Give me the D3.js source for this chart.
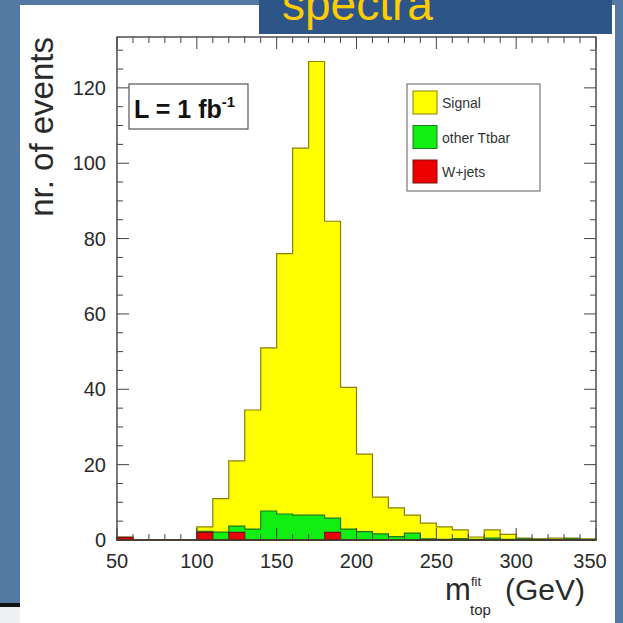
<!DOCTYPE html>
<html>
<head>
<meta charset="utf-8">
<script src="https://cdn.jsdelivr.net/npm/d3@7"></script>
<style>
  body { margin: 0; padding: 0; background: #5479a3; }
  svg { display: block; font-family: 'Liberation Sans', Arial, Helvetica, sans-serif; }
</style>
</head>
<body>
<svg id="chart" width="623" height="623"></svg>
<script>
// Histogram bins (10 GeV wide, lower edges)
var bin_starts = [50, 60, 70, 80, 90, 100, 110, 120, 130, 140, 150, 160, 170, 180, 190,
  200, 210, 220, 230, 240, 250, 260, 270, 280, 290, 300, 310, 320, 330, 340]
var bin_width = 10

// Stacked components (bottom to top): W+jets, other ttbar, signal
var wjets = [0.7, 0, 0, 0, 0, 2.0, 0, 2.0, 0, 0, 0, 0, 0, 2.0, 0,
  0, 0, 0, 0, 0, 0, 0, 0, 0, 0, 0, 0, 0, 0, 0]
var ttbar = [0, 0, 0, 0, 0, 0.3, 2.1, 1.7, 2.9, 7.7, 6.9, 6.6, 6.6, 3.8, 2.9,
  2.2, 1.6, 0.9, 1.8, 0.3, 0.2, 0.4, 0.2, 0.5, 0.2, 0.3, 0.2, 0.1, 0.3, 0.1]
var signal = [0, 0, 0, 0, 0, 1.2, 8.9, 17.3, 31.6, 43.3, 69.1, 97.4, 120.4, 78.8, 37.6,
  20.6, 9.8, 7.6, 4.8, 4.2, 3.3, 2.3, 0.6, 2.2, 1.3, 0.2, 0.1, 0.4, 0.2, 0.2]

// Axis ticks
var x_ticks = [50, 100, 150, 200, 250, 300, 350]
var y_ticks = [0, 20, 40, 60, 80, 100, 120]

// Legend
var legend_labels = ['Signal', 'other Ttbar', 'W+jets']
var legend_colors = ['#ffff00', '#11ee11', '#ee0000']

var svg = d3.select('#chart')

// Slide background
svg.append('rect').attr('width', 623).attr('height', 623).attr('fill', '#5479a3')
svg.append('rect').attr('x', 0).attr('y', 603).attr('width', 20).attr('height', 4).attr('fill', '#111')
svg.append('rect').attr('x', 0).attr('y', 607).attr('width', 20).attr('height', 16).attr('fill', '#eef0f4')

// White panel
svg.append('rect').attr('x', 20).attr('y', 5).attr('width', 595).attr('height', 618).attr('fill', '#ffffff')

// Header box
svg.append('rect').attr('x', 259).attr('y', 0).attr('width', 353).attr('height', 34).attr('fill', '#2d5587')
svg.append('text')
  .attr('x', 282).attr('y', 20)
  .attr('font-size', 46)
  .attr('fill', '#ffcc00')
  .text('spectra')

// Scales
var x = d3.scaleLinear().domain([50, 350]).range([117, 596])
var y = d3.scaleLinear().domain([0, 133.5]).range([540, 37])

// Build cumulative stacks
var stack_wj = wjets.slice()
var stack_tt = ttbar.map((v, i) => v + wjets[i])
var stack_all = signal.map((v, i) => v + stack_tt[i])

function step_points(vals) {
  var pts = [[bin_starts[0], 0]]
  vals.forEach((v, i) => {
    pts.push([bin_starts[i], v])
    pts.push([bin_starts[i] + bin_width, v])
  })
  pts.push([bin_starts[bin_starts.length - 1] + bin_width, 0])
  return pts
}

var line = d3.line().x(d => x(d[0])).y(d => y(d[1]))

function draw_hist(vals, fill, stroke) {
  svg.append('path')
    .attr('d', line(step_points(vals)) + 'Z')
    .attr('fill', fill)
    .attr('stroke', stroke)
    .attr('stroke-width', 1.2)
    .attr('stroke-linejoin', 'miter')
}

draw_hist(stack_all, '#ffff00', '#8c8000')
draw_hist(stack_tt, '#11ee11', '#1d7a1d')
draw_hist(stack_wj, '#ee0000', '#7a1010')

// Frame
svg.append('rect')
  .attr('x', x(50)).attr('y', y(133.5))
  .attr('width', x(350) - x(50)).attr('height', y(0) - y(133.5))
  .attr('fill', 'none').attr('stroke', '#333').attr('stroke-width', 1.3)

// Axes with inward ticks on all four sides
var tick_col = '#444'
var x_minor = d3.range(50, 351, 10)
var y_minor = d3.range(0, 133, 5)

x_minor.forEach(v => {
  var len = x_ticks.includes(v) ? 12 : 6
  svg.append('line').attr('x1', x(v)).attr('x2', x(v)).attr('y1', y(0)).attr('y2', y(0) - len)
    .attr('stroke', tick_col).attr('stroke-width', 1)
  svg.append('line').attr('x1', x(v)).attr('x2', x(v)).attr('y1', y(133.5)).attr('y2', y(133.5) + len)
    .attr('stroke', tick_col).attr('stroke-width', 1)
})
y_minor.forEach(v => {
  var len = y_ticks.includes(v) ? 12 : 6
  svg.append('line').attr('x1', x(50)).attr('x2', x(50) + len).attr('y1', y(v)).attr('y2', y(v))
    .attr('stroke', tick_col).attr('stroke-width', 1)
  svg.append('line').attr('x1', x(350)).attr('x2', x(350) - len).attr('y1', y(v)).attr('y2', y(v))
    .attr('stroke', tick_col).attr('stroke-width', 1)
})

// Tick labels
svg.selectAll('.xlab').data(x_ticks).enter().append('text')
  .attr('class', 'xlab')
  .attr('x', d => x(d) - (d == 350 ? 6 : 0)).attr('y', 568)
  .attr('text-anchor', 'middle')
  .attr('font-size', 20).attr('fill', '#2a2a2a')
  .text(d => d)

svg.selectAll('.ylab').data(y_ticks).enter().append('text')
  .attr('class', 'ylab')
  .attr('x', 106).attr('y', d => y(d) + 7)
  .attr('text-anchor', 'end')
  .attr('font-size', 20).attr('fill', '#2a2a2a')
  .text(d => d)

// Axis titles
svg.append('text')
  .attr('transform', 'translate(53,37) rotate(-90)')
  .attr('text-anchor', 'end')
  .attr('font-size', 33).attr('fill', '#2a2a2a')
  .text('nr. of events')

var xt = svg.append('g').attr('fill', '#2a2a2a')
xt.append('text').attr('x', 445).attr('y', 600).attr('font-size', 31).text('m')
xt.append('text').attr('x', 471).attr('y', 586).attr('font-size', 13).text('fit')
xt.append('text').attr('x', 470).attr('y', 615).attr('font-size', 15).text('top')
xt.append('text').attr('x', 505).attr('y', 600).attr('font-size', 30).text('(GeV)')

// Luminosity box
svg.append('rect').attr('x', 129).attr('y', 84).attr('width', 119).attr('height', 45)
  .attr('fill', '#fff').attr('stroke', '#555').attr('stroke-width', 1.2)
var lum = svg.append('text').attr('x', 134).attr('y', 118)
  .attr('font-size', 25).attr('font-weight', 'bold').attr('fill', '#111')
lum.append('tspan').text('L = 1 fb')
lum.append('tspan').attr('dy', -11).attr('font-size', 15).text('-1')

// Legend
svg.append('rect').attr('x', 407).attr('y', 84).attr('width', 133).attr('height', 107)
  .attr('fill', '#fff').attr('stroke', '#777').attr('stroke-width', 1.2)
var leg = svg.selectAll('.leg').data(legend_labels).enter().append('g')
  .attr('class', 'leg')
  .attr('transform', (d, i) => 'translate(413,' + (91 + i * 34.5) + ')')
leg.append('rect').attr('width', 24).attr('height', 23)
  .attr('fill', (d, i) => legend_colors[i])
  .attr('stroke', (d, i) => ['#8c8000', '#1d7a1d', '#7a1010'][i]).attr('stroke-width', 1)
leg.append('text').attr('x', 29).attr('y', 17)
  .attr('font-size', 14).attr('fill', '#333')
  .text(d => d)
</script>
</body>
</html>
